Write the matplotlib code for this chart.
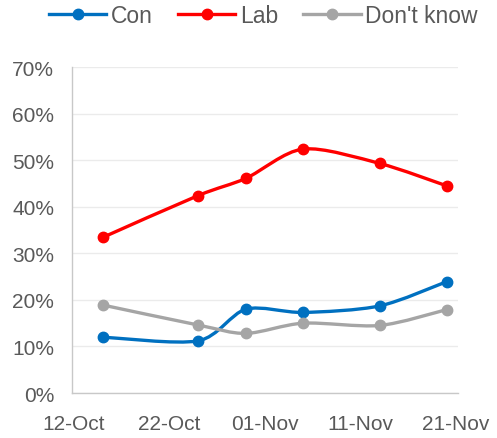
import matplotlib
matplotlib.use("Agg")
import matplotlib.pyplot as plt
import matplotlib.dates as mdates
from matplotlib.path import Path
from matplotlib.patches import PathPatch
from matplotlib.lines import Line2D
from matplotlib.ticker import PercentFormatter
import numpy as np
import pandas as pd

plt.rcParams['font.family'] = ['Liberation Sans', 'DejaVu Sans']

dates = ['2019-10-15', '2019-10-25', '2019-10-30', '2019-11-05', '2019-11-13', '2019-11-20']
con = [12.0, 11.2, 18.0, 17.3, 18.7, 23.9]
lab = [33.4, 42.4, 46.1, 52.4, 49.3, 44.5]
dont_know = [18.9, 14.6, 12.8, 15.0, 14.5, 17.9]
tick_dates = ['2019-10-12', '2019-10-22', '2019-11-01', '2019-11-11', '2019-11-21']

series = [('Con', con, '#0070C0'), ('Lab', lab, '#FF0000'), ("Don't know", dont_know, '#A5A5A5')]

text_col = '#595959'


def smooth_path(x, y):
    # excel style smoothed line: bezier segments with catmull-rom control points
    pts = np.column_stack([x, y])
    n = len(pts)
    verts = [pts[0]]
    codes = [Path.MOVETO]
    for i in range(n - 1):
        p0 = pts[max(i - 1, 0)]
        p1 = pts[i]
        p2 = pts[i + 1]
        p3 = pts[min(i + 2, n - 1)]
        c1 = p1 + (p2 - p0) / 7.0
        c2 = p2 - (p3 - p1) / 7.0
        verts += [c1, c2, p2]
        codes += [Path.CURVE4] * 3
    return Path(verts, codes)


fig = plt.figure(figsize=(4.97, 4.39), dpi=100)
ax = fig.add_axes([0.145, 0.1025, 0.7765, 0.7425])

x = mdates.date2num(pd.to_datetime(dates))
for name, vals, col in series:
    ax.add_patch(PathPatch(smooth_path(x, vals), facecolor='none', edgecolor=col,
                           lw=2.4, capstyle='round', joinstyle='round', zorder=3))
    ax.plot(x, vals, 'o', color=col, ms=7.5, zorder=4)

ticks = mdates.date2num(pd.to_datetime(tick_dates))
ax.set_xlim(ticks[0] - 0.2, ticks[-1] + 0.2)
ax.set_xticks(ticks)
ax.set_xticklabels([pd.Timestamp(d).strftime('%d-%b') for d in tick_dates])
ax.set_ylim(0, 70)
ax.set_yticks(range(0, 71, 10))
ax.yaxis.set_major_formatter(PercentFormatter(decimals=0))

ax.grid(axis='y', color='#EBEBEB', lw=1)
ax.set_axisbelow(True)
for s in ['top', 'right']:
    ax.spines[s].set_visible(False)
for s in ['left', 'bottom']:
    ax.spines[s].set_color('#C8C8C8')
    ax.spines[s].set_linewidth(1)
ax.tick_params(length=0, labelsize=15, labelcolor=text_col)
ax.tick_params(axis='x', pad=15)
ax.tick_params(axis='y', pad=13)

handles = [Line2D([], [], color=c, lw=2.4, marker='o', ms=7.5) for _, _, c in series]
leg = fig.legend(handles, [s[0] for s in series], loc='center', bbox_to_anchor=(0.53, 0.963),
                 ncol=3, frameon=False, fontsize=16.5, handlelength=2.5, handletextpad=0.2,
                 columnspacing=1.1, labelcolor=text_col)

fig.savefig('out.png', dpi=100)
